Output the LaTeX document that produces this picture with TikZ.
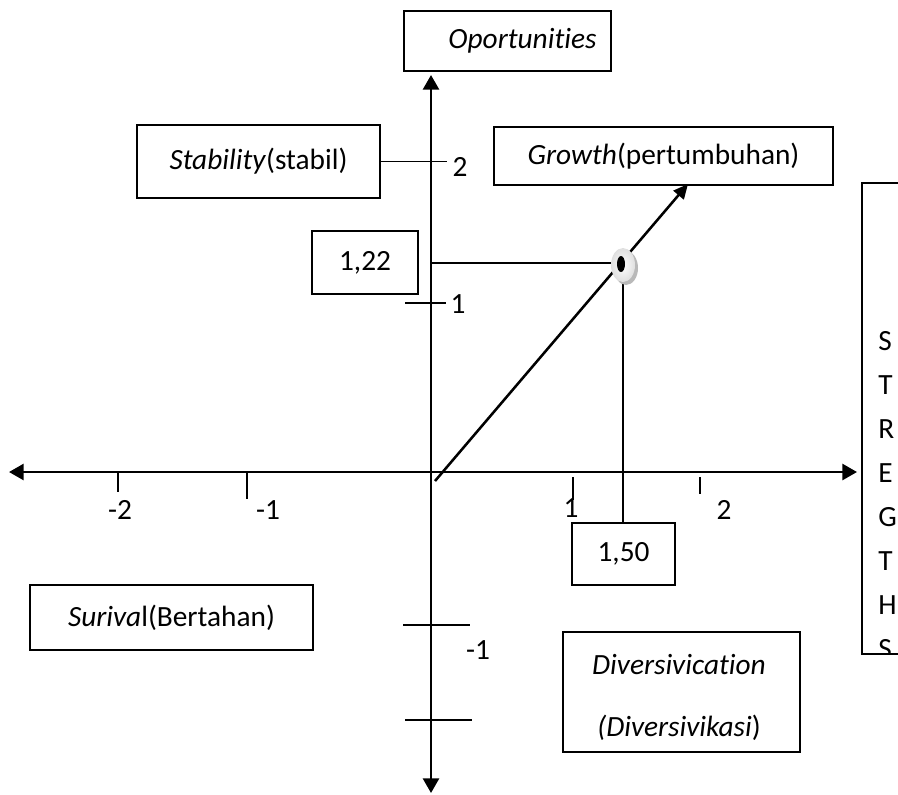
\documentclass[tikz,border=0pt]{standalone}
\usepackage{fontspec}
\setmainfont{Carlito}[Ligatures=NoCommon]
\usetikzlibrary{arrows.meta}
\tikzset{
  box/.style={draw,line width=1.5pt,inner sep=0pt,align=center},
  axisline/.style={line width=2pt,{Triangle[length=11pt,width=12pt]}-{Triangle[length=11pt,width=12pt]}},
  tickline/.style={line width=1.1pt},
  lbl/.style={inner sep=0pt}
}

\begin{document}
\begin{tikzpicture}[x=0.75pt,y=-0.75pt,font=\fontsize{22}{26}\selectfont]
    \useasboundingbox (0,0) rectangle (898,794);
    \coordinate (xl) at (9,472);
    \coordinate (xr) at (857,472);
    \coordinate (yt) at (431,75);
    \coordinate (yb) at (431,793);
    \draw[axisline] (xl) -- (xr);
    \draw[axisline] (yb) -- (yt);
    \node[box,minimum width=155.3pt,minimum height=45pt] (opp) at (507.5,41) {\hspace*{22.5pt}\textit{Oportunities}};
    \node[box,minimum width=182.3pt,minimum height=54.8pt] (stab) at (258.5,161.5) {\textit{Stability}(stabil)};
    \node[box,minimum width=254.3pt,minimum height=43.5pt] (grow) at (663.5,156) {\textit{Growth}(pertumbuhan)};
    \node[box,minimum width=79.5pt,minimum height=47.3pt] (v122) at (365,262.5) {1,22};
    \node[box,minimum width=77.3pt,minimum height=46.5pt] (v150) at (623.5,554) {1,50};
    \node[box,minimum width=212.3pt,minimum height=48.8pt] (surv) at (171.5,617.5) {\textit{Suriva}l(Bertahan)};
    \node[box,minimum width=177.8pt,minimum height=90pt] (div) at (681.5,692) {};
    \node[lbl,align=center] (divtxt) at (679,697) {\textit{Diversivication}\\[20.5pt]\textit{(Diversivikasi})};
    % ticks on the axes
    \draw[tickline] (118,473) -- (118,492);
    \draw[tickline] (247,473) -- (247,499);
    \draw[tickline] (573,477) -- (573,500);
    \draw[tickline] (700,477) -- (700,494);
    \draw[tickline] (stab.east) -- ++(66,0);
    \draw[tickline] (405,303) -- (446,303);
    \draw[tickline] (403,625) -- (470,625);
    \draw[tickline] (405,720) -- (472,720);
    \node[lbl] (xm2) at (120,510) {-2};
    \node[lbl] (xm1) at (268,510) {-1};
    \node[lbl] (xp1) at (571,508) {1};
    \node[lbl] (xp2) at (724,510) {2};
    \node[lbl] (yp2) at (460,167) {2};
    \node[lbl] (yp1) at (458,304) {1};
    \node[lbl] (ym1) at (478,650) {-1};
    % point (1,50 ; 1,22)
    \coordinate (m122) at (431,263);
    \coordinate (dot) at (623,265);
    \coordinate (gs) at (435,481);
    \coordinate (ge) at (688,184);
    \draw[tickline] (m122) -- (m122 -| dot);
    \draw[tickline] (dot) -- (dot |- v150.north);
    \draw[line width=1.9pt,-{Triangle[length=11pt,width=10pt]}] (gs) -- (ge);
    \fill[gray!55] (626,268) ellipse (12 and 17);
    \shade[inner color=white,outer color=gray!25] (dot) ellipse (12 and 17);
    \fill[black] (621,264) ellipse (4 and 8);
    % strengths box, cut at the page edge
    \begin{scope}
      \clip (859,180) rectangle (898,654.2);
      \node[box,anchor=north west,minimum width=75pt,minimum height=353.3pt] (strg) at (861,182) {};
      \foreach \l [count=\i] in {S,T,R,E,G,T,H,S}
        \node[lbl,anchor=base west] (s\i) at (878,350.5+44*\i-44) {\l};
    \end{scope}
\end{tikzpicture}
\end{document}
